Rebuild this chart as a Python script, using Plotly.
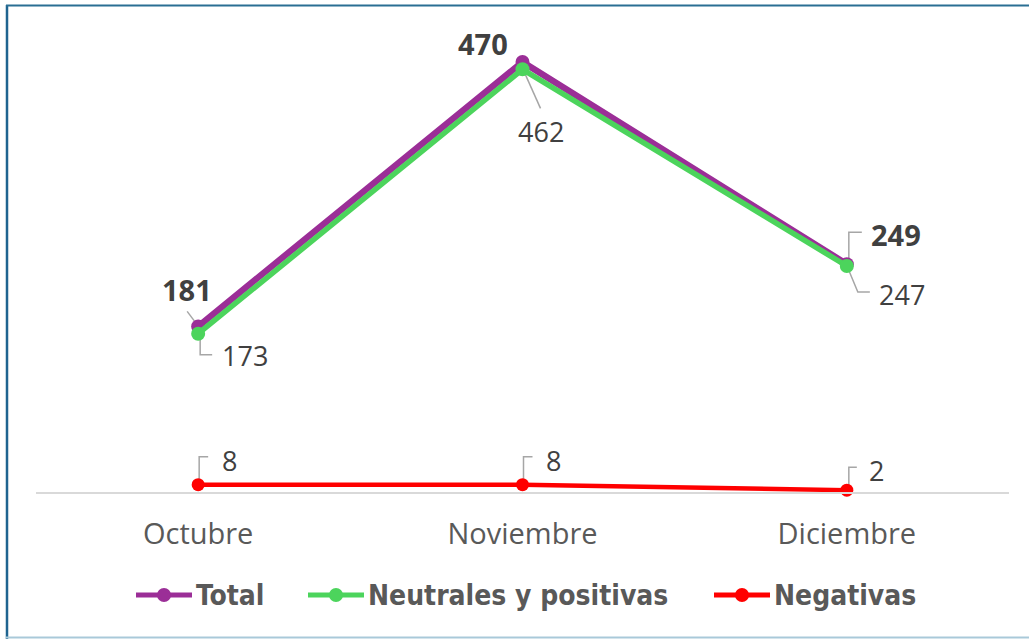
import plotly.graph_objects as go

months = ["Octubre", "Noviembre", "Diciembre"]
total = [181, 470, 249]
neutrales = [173, 462, 247]
negativas = [8, 8, 2]
series_names = ["Total", "Neutrales y positivas", "Negativas"]

W, H = 1029, 639
ML, MT, MR = 36, 20, 20
PW = W - ML - MR
PH = 492 - MT
MB = H - MT - PH
YMAX = 470 * PH / 430.0

xs = list(range(len(months)))
PURPLE = "#9B2E97"
GREEN = "#4CD45C"
RED = "#FF0000"
COLORS = [PURPLE, GREEN, RED]
LBL = "#404040"
LEAD = "#A6A6A6"
LFONT = "Open Sans, Liberation Sans, Arial"
LEGFONT = "DejaVu Sans Condensed, Liberation Sans Narrow, Arial Narrow, sans-serif"

fig = go.Figure()
for vals, name, col, lw, ms in [(total, series_names[0], PURPLE, 6.5, 14),
                                (neutrales, series_names[1], GREEN, 5.5, 14),
                                (negativas, series_names[2], RED, 4.5, 13)]:
    fig.add_trace(go.Scatter(x=xs, y=vals, name=name, mode="lines+markers",
                             line=dict(color=col, width=lw), marker=dict(size=ms, color=col),
                             cliponaxis=False, showlegend=False, hoverinfo="skip"))

# label offsets (pixels) and leader paths (pixels relative to point)
specs = [
    (total, [(-11, 37), (-40, 19), (49, 30)], True,
     ["M -2,3 L -11,15", None, "M 2,0 L 2,32 L 15,32"]),
    (neutrales, [(47, -22), (18, -62), (55, -28)], False,
     ["M 2,-6 L 2,-21 L 14,-21", "M 1,-1 L 18,-39", "M 1,-2 L 11,-26 L 23,-26"]),
    (negativas, [(31, 24), (31, 24), (30, 20)], False,
     ["M 1,5 L 1,28 L 10,28", "M 1,5 L 1,28 L 10,28", "M 2,3 L 2,23 L 10,23"]),
]
annotations = []
shapes = []
for vals, offs, bold, paths in specs:
    for i, v in enumerate(vals):
        dx, dy = offs[i]
        txt = f"<b>{v}</b>" if bold else str(v)
        annotations.append(dict(x=xs[i], y=v, xref="x", yref="y", text=txt, showarrow=False,
                                xshift=dx, yshift=dy,
                                font=dict(family=LFONT, size=29 if bold else 27, color=LBL)))
        if paths[i]:
            shapes.append(dict(type="path", xref="x", yref="y", xsizemode="pixel", ysizemode="pixel",
                               xanchor=xs[i], yanchor=v, path=paths[i],
                               line=dict(color=LEAD, width=1.5), layer="below"))

def px2x(p):
    return (p - ML) / PW

def py2y(p):
    return (MT + PH - p) / PH

# chart frame
shapes.append(dict(type="line", xref="paper", yref="paper", x0=px2x(7), x1=px2x(7),
                   y0=py2y(5), y1=py2y(645), line=dict(color="#1F6490", width=2.5)))
shapes.append(dict(type="line", xref="paper", yref="paper", x0=px2x(6), x1=px2x(1040),
                   y0=py2y(5.5), y1=py2y(5.5), line=dict(color="#2A6F93", width=2)))
shapes.append(dict(type="line", xref="paper", yref="paper", x0=px2x(6), x1=px2x(1040),
                   y0=py2y(637.5), y1=py2y(637.5), line=dict(color="#A9C9D9", width=2)))

# custom legend (long line symbols as in the original)
leg_sym_x = [136, 308, 714]
leg_y = 595
for name, col, sx in zip(series_names, COLORS, leg_sym_x):
    shapes.append(dict(type="line", xref="paper", yref="paper", x0=px2x(sx), x1=px2x(sx + 56),
                       y0=py2y(leg_y), y1=py2y(leg_y), line=dict(color=col, width=5)))
    shapes.append(dict(type="circle", xref="paper", yref="paper",
                       x0=px2x(sx + 28 - 7), x1=px2x(sx + 28 + 7),
                       y0=py2y(leg_y - 7), y1=py2y(leg_y + 7),
                       fillcolor=col, line=dict(color=col, width=0)))
    annotations.append(dict(x=px2x(sx + 58), y=py2y(leg_y), xref="paper", yref="paper",
                            xanchor="left", yanchor="middle", showarrow=False,
                            text=f"<b>{name}</b>",
                            font=dict(family=LEGFONT, size=28, color="#595959")))

fig.update_layout(
    width=W, height=H,
    margin=dict(l=ML, r=MR, t=MT, b=MB),
    plot_bgcolor="white", paper_bgcolor="white",
    showlegend=False,
    hovermode=False,
    annotations=annotations,
    shapes=shapes,
    xaxis=dict(range=[-0.5, 2.5], tickvals=xs, ticktext=months, showgrid=False, zeroline=False,
               showline=True, linecolor="#D9D9D9", linewidth=1.5,
               ticks="outside", ticklen=0, ticklabelstandoff=15,
               tickfont=dict(family=LFONT, size=29, color="#595959")),
    yaxis=dict(range=[0, YMAX], visible=False, showgrid=False, zeroline=False),
)

fig.write_html("out.html", config={"displayModeBar": False},
               post_script="document.body.style.margin='0';document.body.style.overflow='hidden';")
